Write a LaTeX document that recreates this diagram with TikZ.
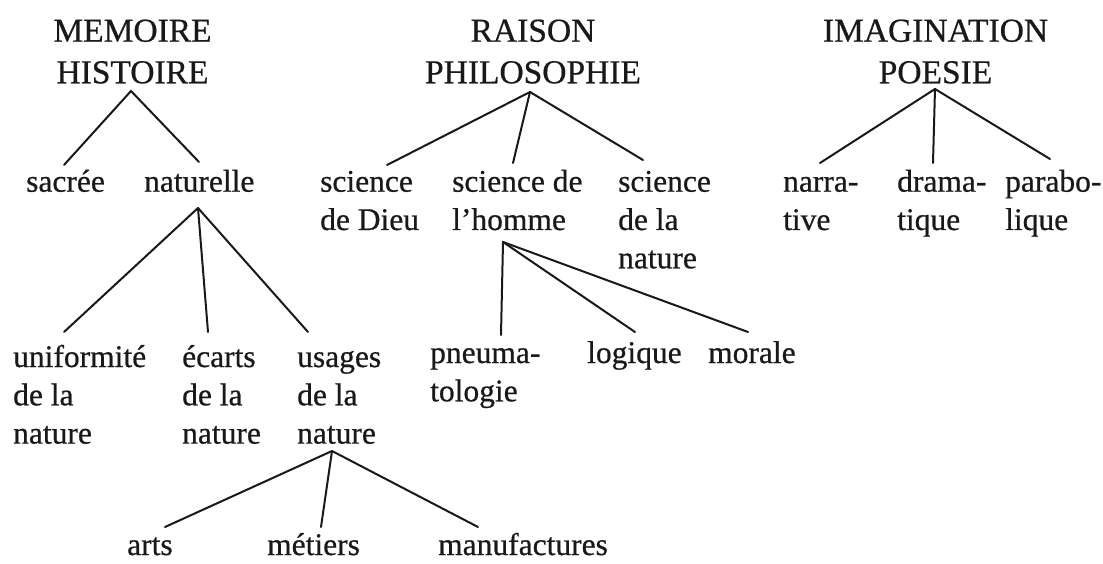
\documentclass[tikz,border=0pt]{standalone}
\usepackage{fontspec}
\setmainfont[FakeBold=0.6]{Liberation Serif}
\usetikzlibrary{calc}
\tikzset{
  head/.style={inner sep=0pt, anchor=base, text=black!90,
    font=\fontsize{33.5}{41.6}\selectfont},
  leaf/.style={inner sep=0pt, anchor=base west, text=black!90,
    font=\fontsize{31.5}{38.3}\selectfont},
  branch/.style={line width=2pt, draw=black!90, line cap=round}
}
\newcommand{\colc}[1]{\begin{tabular}[t]{@{}c@{}}#1\end{tabular}}
\newcommand{\coll}[1]{\begin{tabular}[t]{@{}l@{}}#1\end{tabular}}
\begin{document}
\begin{tikzpicture}[x=1pt,y=-1pt]
\useasboundingbox[fill=white] (0,0) rectangle (1103,564);

% headers
\node[head] (mem) at (132.5,41.7) {\colc{MEMOIRE\\HISTOIRE}};
\node[head] (rai) at (533,41.7) {\colc{RAISON\\PHILOSOPHIE}};
\node[head] (ima) at (935.5,41.7) {\colc{IMAGINATION\\POESIE}};

% level 1
\node[leaf] (sac) at (26,191.7) {sacrée};
\node[leaf] (nat) at (144,191.7) {naturelle};
\node[leaf] (dieu) at (320,191.7) {\coll{science\\de Dieu}};
\node[leaf] (hom) at (452,191.7) {\coll{science de\\l’homme}};
\node[leaf] (sna) at (618,191.7) {\coll{science\\de la\\nature}};
\node[leaf] (nar) at (783,191.7) {\coll{narra-\\tive}};
\node[leaf] (dra) at (897,191.7) {\coll{drama-\\tique}};
\node[leaf] (par) at (1005,191.7) {\coll{parabo-\\lique}};

% level 2
\node[leaf] (uni) at (13,367) {\coll{uniformité\\de la\\nature}};
\node[leaf] (eca) at (182,367) {\coll{écarts\\de la\\nature}};
\node[leaf] (usa) at (297,367) {\coll{usages\\de la\\nature}};
\node[leaf] (pne) at (430,363) {\coll{pneuma-\\tologie}};
\node[leaf] (log) at (587,363) {logique};
\node[leaf] (mor) at (708,363) {morale};

% level 3
\node[leaf] (arts) at (127,555) {arts};
\node[leaf] (met) at (267,555) {métiers};
\node[leaf] (man) at (438,555) {manufactures};

% connectors: MEMOIRE
\coordinate (memB) at ($(mem.base)+(-1.5,49.3)$);
\draw[branch] ($(sac.base west)+(38,-26.7)$) -- (memB) -- ($(nat.base west)+(55,-29.7)$);
\coordinate (natB) at ($(nat.base west)+(54,16.3)$);
\draw[branch] (natB) -- ($(uni.base west)+(51,-35)$);
\draw[branch] (natB) -- ($(eca.base west)+(26,-35)$);
\draw[branch] (natB) -- ($(usa.base west)+(11,-35)$);
\coordinate (usaB) at ($(usa.base west)+(35,84)$);
\draw[branch] (usaB) -- ($(arts.base west)+(38,-28)$);
\draw[branch] (usaB) -- ($(met.base west)+(54,-28)$);
\draw[branch] (usaB) -- ($(man.base west)+(40,-28)$);

% connectors: RAISON
\coordinate (raiB) at ($(rai.base)+(-3,50.3)$);
\draw[branch] (raiB) -- ($(dieu.base west)+(67,-26.7)$);
\draw[branch] (raiB) -- ($(hom.base west)+(61,-28.7)$);
\draw[branch] (raiB) -- ($(sna.base west)+(25,-31.7)$);
\coordinate (homB) at ($(hom.base west)+(51,50.3)$);
\draw[branch] (homB) -- ($(pne.base west)+(71,-28)$);
\draw[branch] (homB) -- ($(log.base west)+(48,-31)$);
\draw[branch] (homB) -- ($(mor.base west)+(40,-31)$);

% connectors: IMAGINATION
\coordinate (imaB) at ($(ima.base)+(-0.5,47.3)$);
\draw[branch] (imaB) -- ($(nar.base west)+(37,-28.7)$);
\draw[branch] (imaB) -- ($(dra.base west)+(36,-28.7)$);
\draw[branch] (imaB) -- ($(par.base west)+(45,-32.7)$);
\end{tikzpicture}
\end{document}
